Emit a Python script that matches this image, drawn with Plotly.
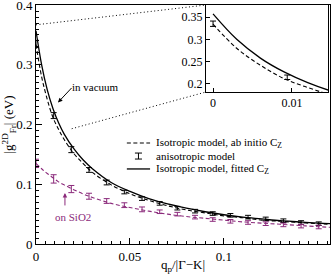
import plotly.graph_objects as go

# ---------------- data ----------------
# anisotropic model (error bars), in vacuum
q_pts = [0.0, 0.0094, 0.0188, 0.0282, 0.0376, 0.047, 0.0564, 0.0658, 0.0752,
         0.0846, 0.094, 0.1034, 0.1128, 0.1222, 0.1316, 0.141, 0.1504]
aniso_vac = [0.335, 0.215, 0.158, 0.124, 0.103, 0.087, 0.076, 0.068, 0.060,
             0.055, 0.051, 0.048, 0.045, 0.042, 0.039, 0.036, 0.034]
aniso_vac_err = [0.006, 0.005, 0.005, 0.004, 0.004, 0.003, 0.003, 0.003, 0.003,
                 0.003, 0.003, 0.003, 0.003, 0.003, 0.003, 0.003, 0.003]
# anisotropic model on SiO2
aniso_sio2 = [0.135, 0.109, 0.092, 0.080, 0.072, 0.065, 0.058, 0.054, 0.050,
              0.045, 0.041, 0.038, 0.036, 0.034, 0.032, 0.030, 0.0285]
aniso_sio2_err = [0.007, 0.007, 0.006, 0.005, 0.004, 0.004, 0.004, 0.003, 0.003,
                  0.003, 0.003, 0.003, 0.003, 0.003, 0.003, 0.003, 0.003]

# isotropic model curves
q_line = [0.0, 0.003, 0.006, 0.009, 0.012, 0.015, 0.02, 0.025, 0.03, 0.04, 0.05,
          0.06, 0.07, 0.08, 0.09, 0.10, 0.11, 0.12, 0.13, 0.14, 0.15, 0.1564]
iso_fitted = [0.357, 0.300, 0.258, 0.227, 0.203, 0.184, 0.160, 0.141, 0.126, 0.103,
              0.088, 0.076, 0.067, 0.060, 0.054, 0.049, 0.045, 0.042, 0.039, 0.037,
              0.035, 0.034]
iso_abinitio = [0.334, 0.280, 0.242, 0.212, 0.192, 0.175, 0.152, 0.135, 0.120, 0.099,
                0.084, 0.073, 0.064, 0.057, 0.052, 0.047, 0.044, 0.040, 0.038, 0.036,
                0.034, 0.033]
iso_sio2 = [0.135, 0.126, 0.118, 0.111, 0.104, 0.099, 0.091, 0.084, 0.078, 0.068,
            0.061, 0.055, 0.050, 0.046, 0.043, 0.040, 0.037, 0.035, 0.033, 0.031,
            0.029, 0.028]

main_x_range = [0.0, 0.1564]
main_y_range = [0.0, 0.4002]
main_x_ticks = [0, 0.05, 0.1]
main_y_ticks = [0, 0.1, 0.2, 0.3, 0.4]
inset_x_range = [-0.0009, 0.01456]
inset_y_range = [0.182, 0.377]
inset_x_ticks = [0, 0.01]
inset_y_ticks = [0.2, 0.25, 0.3, 0.35]
inset_dom_x = [0.578, 0.993]
inset_dom_y = [0.636, 1.0]
# points of the main plot connected to the inset with dotted lines
zoom_link_pts = [(0.0, 0.367), (0.019, 0.193)]

legend_labels = ["Isotropic model, ab initio C<sub>Z</sub>",
                 "anisotropic model",
                 "Isotropic model, fitted C<sub>Z</sub>"]

PURPLE = "#8B2A7B"
FONT = "Liberation Serif"
DASH = "4px,2.5px"

fig = go.Figure()

for xa, ya in (("x", "y"), ("x2", "y2")):
    fig.add_trace(go.Scatter(x=q_line, y=iso_fitted, mode="lines", xaxis=xa, yaxis=ya,
                             line=dict(color="black", width=1.3, shape="spline"),
                             showlegend=False, hoverinfo="skip"))
    fig.add_trace(go.Scatter(x=q_line, y=iso_abinitio, mode="lines", xaxis=xa, yaxis=ya,
                             line=dict(color="black", width=1.1, dash=DASH, shape="spline"),
                             showlegend=False, hoverinfo="skip"))
    fig.add_trace(go.Scatter(x=q_pts, y=aniso_vac, mode="markers", xaxis=xa, yaxis=ya,
                             marker=dict(size=0.1, color="black"),
                             error_y=dict(type="data", array=aniso_vac_err, color="black",
                                          thickness=1, width=3),
                             showlegend=False, hoverinfo="skip"))

fig.add_trace(go.Scatter(x=q_line, y=iso_sio2, mode="lines",
                         line=dict(color=PURPLE, width=1.1, dash=DASH, shape="spline"),
                         showlegend=False, hoverinfo="skip"))
fig.add_trace(go.Scatter(x=q_pts, y=aniso_sio2, mode="markers",
                         marker=dict(size=0.1, color=PURPLE),
                         error_y=dict(type="data", array=aniso_sio2_err, color=PURPLE,
                                      thickness=1, width=3),
                         showlegend=False, hoverinfo="skip"))

axis_common = dict(showline=True, linecolor="black", linewidth=1, mirror=True,
                   ticks="inside", tickcolor="black", showgrid=False, zeroline=False,
                   automargin=False, tickmode="array", ticklabeloverflow="allow",
                   tickfont=dict(family=FONT, size=13, color="black"))
inset_font = dict(family=FONT, size=12, color="black")
title_font = dict(family=FONT, size=13, color="black")

fig.update_layout(
    width=332, height=274,
    margin=dict(l=36, r=2, t=5, b=30),
    paper_bgcolor="white", plot_bgcolor="white",
    showlegend=False,
    font=dict(family=FONT, color="black"),
    xaxis=dict(range=main_x_range, tickvals=main_x_ticks, ticklen=6,
               minor=dict(tickmode="linear", tick0=0, dtick=0.005, ticklen=3,
                          ticks="inside", tickcolor="black"),
               title=dict(text="q<sub>p</sub>/|Γ−K|", font=title_font, standoff=0),
               **axis_common),
    yaxis=dict(range=main_y_range, tickvals=main_y_ticks, ticklen=6,
               minor=dict(tickmode="linear", tick0=0, dtick=0.01, ticklen=3,
                          ticks="inside", tickcolor="black"),
               title=dict(text="|g<sup>2D</sup><sub>Fr</sub>| (eV)", font=title_font,
                          standoff=0),
               **axis_common),
    xaxis2=dict(domain=inset_dom_x, anchor="y2", range=inset_x_range,
                tickvals=inset_x_ticks, ticklen=4,
                **{**axis_common, "tickfont": inset_font}),
    yaxis2=dict(domain=inset_dom_y, anchor="x2", range=inset_y_range,
                tickvals=inset_y_ticks, ticklen=4,
                **{**axis_common, "tickfont": inset_font}),
)

# dotted connectors from main plot region to the inset corners
def to_paper(x, y):
    return ((x - main_x_range[0]) / (main_x_range[1] - main_x_range[0]),
            (y - main_y_range[0]) / (main_y_range[1] - main_y_range[0]))

corners = [(inset_dom_x[0], inset_dom_y[1]), (inset_dom_x[0], inset_dom_y[0])]
for (mx, my), (cx, cy) in zip(zoom_link_pts, corners):
    px, py = to_paper(mx, my)
    fig.add_shape(type="line", xref="paper", yref="paper", x0=px, y0=py, x1=cx, y1=cy,
                  line=dict(color="black", width=1, dash="1px,2.5px"))

# manual legend
leg_rows = [0.4226, 0.368, 0.314]
lx0, lx1, ltext = 0.309, 0.388, 0.400
fig.add_shape(type="line", xref="paper", yref="paper", x0=lx0, x1=lx1,
              y0=leg_rows[0], y1=leg_rows[0], line=dict(color="black", width=1.1, dash=DASH))
fig.add_shape(type="line", xref="paper", yref="paper", x0=lx0, x1=lx1,
              y0=leg_rows[2], y1=leg_rows[2], line=dict(color="black", width=1.3))
cxm = (lx0 + lx1) / 2
hh, hw = 0.0125, 0.012
fig.add_shape(type="line", xref="paper", yref="paper", x0=cxm, x1=cxm,
              y0=leg_rows[1] - hh, y1=leg_rows[1] + hh, line=dict(color="black", width=1))
for s in (-1, 1):
    fig.add_shape(type="line", xref="paper", yref="paper", x0=cxm - hw, x1=cxm + hw,
                  y0=leg_rows[1] + s * hh, y1=leg_rows[1] + s * hh,
                  line=dict(color="black", width=1))
for yv, lab in zip(leg_rows, legend_labels):
    fig.add_annotation(xref="paper", yref="paper", x=ltext, y=yv, text=lab,
                       showarrow=False, xanchor="left", yanchor="middle",
                       font=dict(family=FONT, size=11, color="black"))

# text annotations
fig.add_annotation(xref="paper", yref="paper", x=0.204, y=0.657, text="in vacuum",
                   showarrow=False, xanchor="center", yanchor="middle",
                   font=dict(family=FONT, size=11, color="black"))
fig.add_annotation(x=0.0117, y=0.237, xref="x", yref="y", text="", showarrow=True,
                   ax=15, ay=-16, arrowhead=2, arrowsize=0.9, arrowwidth=1,
                   arrowcolor="black")
fig.add_annotation(xref="paper", yref="paper", x=0.127, y=0.112, text="on SiO2",
                   showarrow=False, xanchor="center", yanchor="middle",
                   font=dict(family=FONT, size=11, color=PURPLE))
fig.add_annotation(x=0.0154, y=0.0855, xref="x", yref="y", text="", showarrow=True,
                   ax=0, ay=14, arrowhead=2, arrowsize=0.9, arrowwidth=1,
                   arrowcolor=PURPLE)

fig.write_html("out.html", config={"displayModeBar": False, "staticPlot": True},
               post_script="document.body.style.margin='0px';")
